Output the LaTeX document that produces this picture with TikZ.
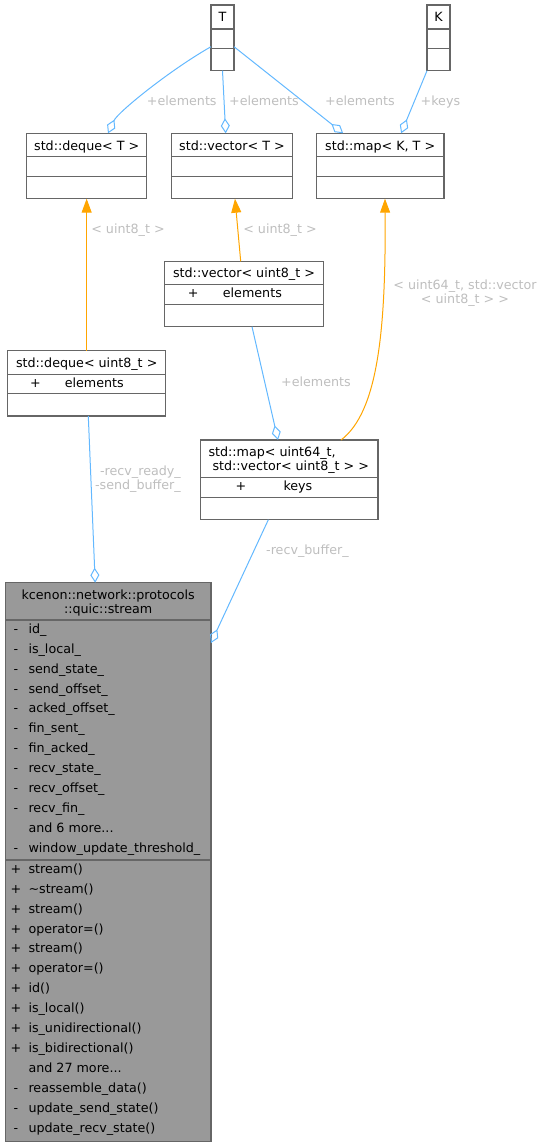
\documentclass[tikz,border=0pt]{standalone}
\usepackage{fontspec}
\setmainfont{DejaVu Sans}
\usetikzlibrary{arrows.meta,calc}
\definecolor{edgeblue}{HTML}{63B8FF}
\definecolor{edgeorange}{HTML}{FFA500}
\definecolor{boxborder}{HTML}{666666}
\definecolor{streamfill}{HTML}{999999}
\definecolor{labelgray}{HTML}{BEBEBE}
\newcommand{\dfont}{\fontsize{12.7}{14.4}\selectfont}
\begin{document}
\begin{tikzpicture}[x=1pt,y=-1pt,
  txt/.style={font=\dfont, inner sep=0pt, anchor=base west},
  ctxt/.style={font=\dfont, inner sep=0pt, anchor=base},
  lbl/.style={font=\dfont, text=labelgray, inner sep=0pt},
  cls/.style={draw=boxborder, line width=1.2pt, fill=white, inner sep=0pt, outer sep=0pt, anchor=north west},
  sepline/.style={draw=boxborder, line width=1.2pt},
  aggr/.style={draw=edgeblue, line width=1pt, {Diamond[open,length=15pt,width=9pt]}-},
  inh/.style={draw=edgeorange, line width=1pt, -{Triangle[length=14pt,width=10pt]}},
]
\useasboundingbox (0,0) rectangle (543,1148);

% ---------- T ----------
\node[cls, minimum width=23pt, minimum height=65.7pt] (T) at (211,5) {};
\draw[sepline] (211,29) -- (234,29);
\draw[sepline] (211,48.3) -- (234,48.3);
\node[ctxt] (Tt) at (222.5,21.7) {T};

% ---------- K ----------
\node[cls, minimum width=23pt, minimum height=65.7pt] (K) at (427,5) {};
\draw[sepline] (427,29) -- (450,29);
\draw[sepline] (427,48.3) -- (450,48.3);
\node[ctxt] (Kt) at (438.5,21.7) {K};

% ---------- std::deque<T> ----------
\node[cls, minimum width=120pt, minimum height=65.4pt] (dequeT) at (26.7,133.3) {};
\draw[sepline] (26.7,156.7) -- (146.7,156.7);
\draw[sepline] (26.7,176.7) -- (146.7,176.7);
\node[ctxt] (dequeTt) at (86.7,150) {std::deque< T >};

% ---------- std::vector<T> ----------
\node[cls, minimum width=121.4pt, minimum height=65.4pt] (vectorT) at (171.3,133.3) {};
\draw[sepline] (171.3,156.7) -- (292.7,156.7);
\draw[sepline] (171.3,176.7) -- (292.7,176.7);
\node[ctxt] (vectorTt) at (232,150) {std::vector< T >};

% ---------- std::map<K,T> ----------
\node[cls, minimum width=127.7pt, minimum height=65.4pt] (mapKT) at (316.3,133.3) {};
\draw[sepline] (316.3,156.7) -- (444,156.7);
\draw[sepline] (316.3,176.7) -- (444,176.7);
\node[ctxt] (mapKTt) at (380.2,150) {std::map< K, T >};

% ---------- std::vector<uint8_t> ----------
\node[cls, minimum width=158.6pt, minimum height=65.4pt] (vecU8) at (164.7,261.3) {};
\draw[sepline] (164.7,284.7) -- (323.3,284.7);
\draw[sepline] (164.7,304.3) -- (323.3,304.3);
\node[ctxt] (vecU8t) at (244,277.7) {std::vector< uint8\_t >};
\node[ctxt] (vecU8p) at (193.3,297.7) {+};
\node[txt] (vecU8e) at (222.7,297.7) {elements};

% ---------- std::deque<uint8_t> ----------
\node[cls, minimum width=158.1pt, minimum height=65.3pt] (dequeU8) at (7.6,350.7) {};
\draw[sepline] (7.6,374.1) -- (165.7,374.1);
\draw[sepline] (7.6,393.7) -- (165.7,393.7);
\node[ctxt] (dequeU8t) at (86.7,367.1) {std::deque< uint8\_t >};
\node[ctxt] (dequeU8p) at (35.4,387.1) {+};
\node[txt] (dequeU8e) at (64.6,387.1) {elements};

% ---------- std::map<uint64_t, std::vector<uint8_t>> ----------
\node[cls, minimum width=177.3pt, minimum height=79.7pt] (mapU64) at (200.7,440) {};
\draw[sepline] (200.7,477.3) -- (378,477.3);
\draw[sepline] (200.7,497.3) -- (378,497.3);
\node[txt] (mapU64t1) at (208.3,456) {std::map< uint64\_t,};
\node[txt] (mapU64t2) at (212.3,470) {std::vector< uint8\_t > >};
\node[ctxt] (mapU64p) at (241,490.7) {+};
\node[txt] (mapU64k) at (283.3,490.7) {keys};

% ---------- kcenon::network::protocols::quic::stream ----------
\node[cls, fill=streamfill, minimum width=205.7pt, minimum height=559pt] (stream) at (5.3,582.7) {};
\draw[sepline] (5.3,620) -- (211,620);
\draw[sepline] (5.3,860) -- (211,860);
\node[ctxt] (streamt1) at (108.15,599.3) {kcenon::network::protocols};
\node[ctxt] (streamt2) at (108.15,613.3) {::quic::stream};

\foreach \i/\p/\n in {0/-/id\_, 1/-/is\_local\_, 2/-/send\_state\_, 3/-/send\_offset\_,
  4/-/acked\_offset\_, 5/-/fin\_sent\_, 6/-/fin\_acked\_, 7/-/recv\_state\_,
  8/-/recv\_offset\_, 9/-/recv\_fin\_, 11/-/window\_update\_threshold\_} {
  \node[ctxt] (sap\i) at (16,633.3+19.9*\i) {\p};
  \node[txt] (san\i) at (28.3,633.3+19.9*\i) {\n};
}
\node[txt] (sanmore) at (28.3,633.3+19.9*10) {and 6 more...};

\foreach \i/\p/\n in {0/+/stream(), 1/+/\textasciitilde stream(), 2/+/stream(), 3/+/operator=(),
  4/+/stream(), 5/+/operator=(), 6/+/id(), 7/+/is\_local(), 8/+/is\_unidirectional(),
  9/+/is\_bidirectional(), 11/-/reassemble\_data(), 12/-/update\_send\_state(),
  13/-/update\_recv\_state()} {
  \node[ctxt] (smp\i) at (16,873.3+19.9*\i) {\p};
  \node[txt] (smn\i) at (28.3,873.3+19.9*\i) {\n};
}
\node[txt] (smnmore) at (28.3,873.3+19.9*10) {and 27 more...};

% ---------- connectors ----------
\draw[aggr] ([xshift=21.3pt]dequeT.north) .. controls +(10,-21.3) and +(-41,23.3) .. ([yshift=-8.85pt]T.west);
\draw[aggr] ([xshift=-6.3pt]vectorT.north) -- (T.south);
\draw[aggr] ([xshift=-37pt]mapKT.north) -- ([yshift=-8.85pt]T.east);
\draw[aggr] ([xshift=21pt]mapKT.north) -- (K.south west);
\draw[inh] ([xshift=-3.3pt]vecU8.north) -- ([xshift=3pt]vectorT.south);
\draw[inh] (dequeU8.north) -- (dequeU8.north |- dequeT.south);
\draw[inh] ([xshift=51.65pt]mapU64.north) .. controls +(37,-28) and +(1,131.3) .. ([xshift=4.85pt]mapKT.south);
\draw[aggr] ([xshift=-11.35pt]mapU64.north) -- ([xshift=8pt]vecU8.south);
\draw[aggr] ([xshift=-12.95pt]stream.north) -- ([xshift=1.65pt]dequeU8.south);
\draw[aggr] ([yshift=219.2pt]stream.east) -- ([xshift=-21pt]mapU64.south);

% ---------- labels ----------
\node[lbl, anchor=base] (l1) at (181.8,105) {+elements};
\node[lbl, anchor=base] (l2) at (264,105) {+elements};
\node[lbl, anchor=base] (l3) at (360,105) {+elements};
\node[lbl, anchor=base] (l4) at (440.4,105) {+keys};
\node[lbl, anchor=base] (l5) at (128,233.3) {< uint8\_t >};
\node[lbl, anchor=base] (l6) at (280,233.3) {< uint8\_t >};
\node[lbl, align=center] (l7) at (465,292.9) {< uint64\_t, std::vector\\< uint8\_t > >};
\node[lbl, anchor=base] (l8) at (316,386.8) {+elements};
\node[lbl, align=right, anchor=east] (l9) at (181,478.9) {-recv\_ready\_\\-send\_buffer\_};
\node[lbl, anchor=base] (l10) at (307.4,554.5) {-recv\_buffer\_};
\end{tikzpicture}
\end{document}
